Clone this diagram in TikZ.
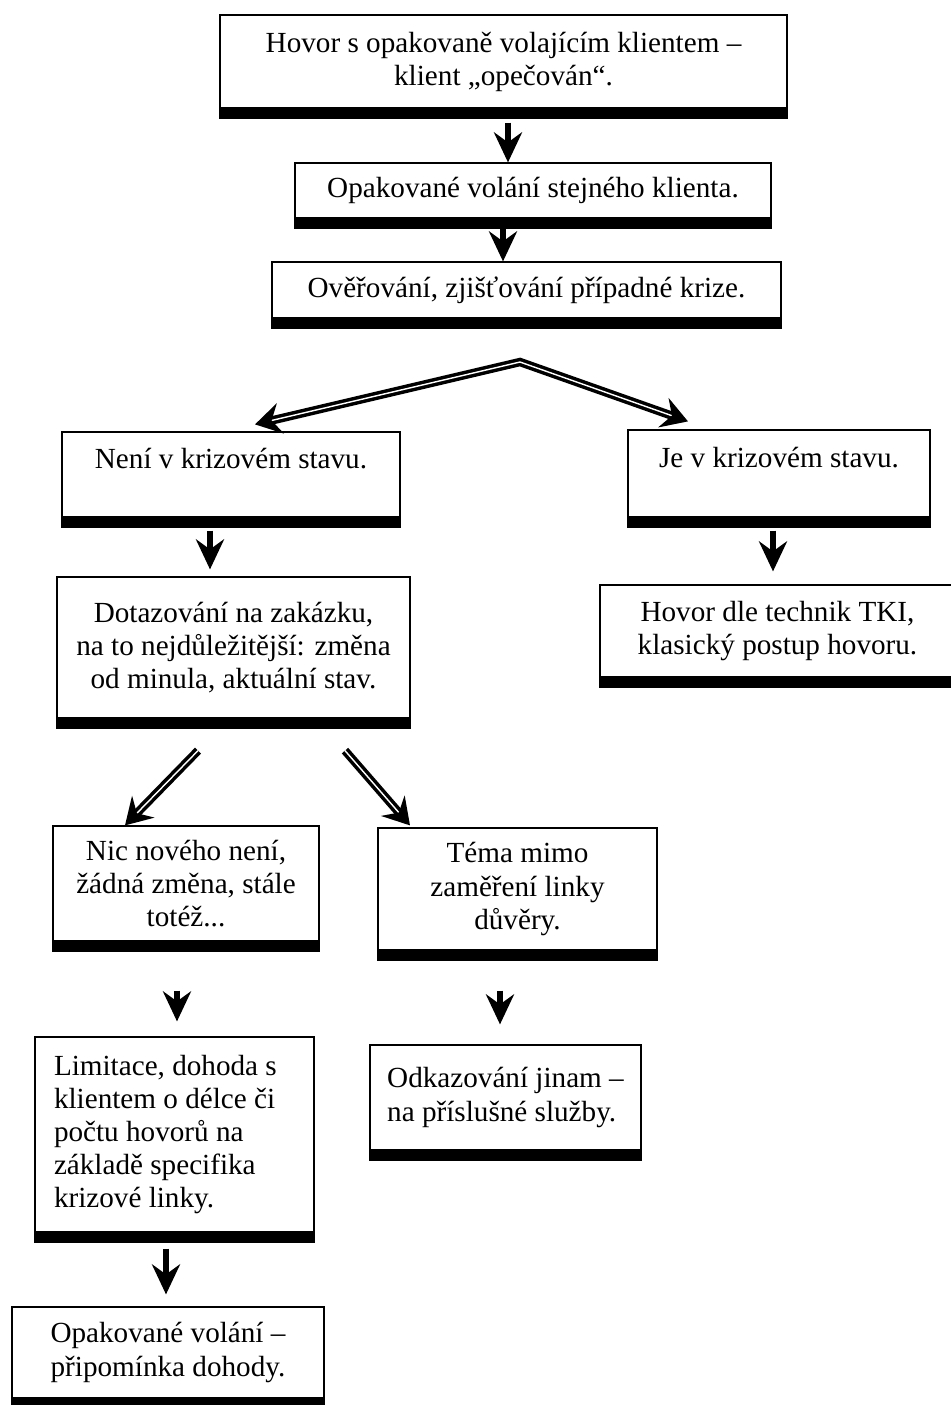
\documentclass[tikz,border=0pt]{standalone}
\usepackage{fontspec}
\setmainfont{Liberation Serif}
\usepackage{tikz}
\usetikzlibrary{arrows.meta,positioning,shadows,calc}

\begin{document}
\begin{tikzpicture}[
 box/.style={draw,line width=.7pt,fill=white,inner sep=0pt,align=center,
 font=\fontsize{16.6}{18.8}\selectfont,
 general shadow={fill=black,draw=black,line width=1.4pt,rounded corners=1pt,shadow yshift=-.2cm}},
 downarr/.style={-{Stealth[length=6mm,width=5.6mm,inset=2mm]},line width=3pt},
 dblarr/.style={>={Stealth[length=5.2mm,width=6.2mm,inset=1.8mm]},->,double,double distance=.8pt,line width=2pt}]
 \useasboundingbox (0,0) rectangle (19.02,-28.1);
 \node[box,minimum width=11.34cm,minimum height=1.86cm] (hovor) at (10.07,-1.23) {Hovor s opakovaně volajícím klientem –\\klient „opečován“.};
 \node[box,minimum width=9.52cm,minimum height=1.1cm] (opak) at (10.66,-3.81) {Opakované volání stejného klienta.};
 \node[box,minimum width=10.18cm,minimum height=1.12cm] (overeni) at (10.53,-5.8) {Ověřování, zjišťování případné krize.};
 \node[box,minimum width=6.76cm,minimum height=1.7cm] (nekriz) at (4.62,-9.49) {Není v krizovém stavu.\\\mbox{}};
 \node[box,minimum width=6.04cm,minimum height=1.74cm] (jekriz) at (15.58,-9.47) {Je v krizovém stavu.\\\mbox{}};
 \node[box,minimum width=7.06cm,minimum height=2.82cm] (dotaz) at (4.67,-12.95) {Dotazování na zakázku,\\na to nejdůležitější: změna\\od minula, aktuální stav.};
 \node[box,minimum width=7.1cm,minimum height=1.84cm] (tki) at (15.55,-12.62) {Hovor dle technik TKI,\\klasický postup hovoru.};
 \node[box,minimum width=5.32cm,minimum height=2.3cm] (nic) at (3.72,-17.67) {Nic nového není,\\žádná změna, stále\\totéž...};
 \node[box,minimum width=5.58cm,minimum height=2.44cm] (tema) at (10.35,-17.78) {Téma mimo\\zaměření linky\\důvěry.};
 \node[box,minimum width=5.58cm,minimum height=3.9cm,text width=4.82cm,align=flush left] (limit) at (3.49,-22.69) {Limitace, dohoda s\\klientem o délce či\\počtu hovorů na\\základě specifika\\krizové linky.};
 \node[box,minimum width=5.42cm,minimum height=2.1cm,align=left] (odkaz) at (10.11,-21.95) {Odkazování jinam –\\na příslušné služby.};
 \node[box,minimum width=6.24cm,minimum height=1.82cm] (pripom) at (3.36,-27.05) {Opakované volání –\\připomínka dohody.};
 \coordinate (split) at (10.4,-7.24);
 \draw[downarr,shorten <=.28cm] ([xshift=.09cm]hovor.south) -- ([xshift=.09cm]hovor.south |- opak.north);
 \draw[downarr,shorten <=.2cm] ([xshift=-.6cm]opak.south) -- ([xshift=-.6cm]opak.south |- overeni.north);
 \draw[dblarr,<->] ($(nekriz.north)+(.48,.14)$) -- (split) -- ($(jekriz.north)+(-1.82,.16)$);
 \draw[downarr,shorten <=.26cm,shorten >=.14cm] ([xshift=-.42cm]nekriz.south) -- ([xshift=-.42cm]nekriz.south |- dotaz.north);
 \draw[downarr,shorten <=.26cm,shorten >=.26cm] ([xshift=-.12cm]jekriz.south) -- ([xshift=-.12cm]jekriz.south |- tki.north);
 \draw[dblarr] ($(dotaz.south)+(-.71,-.64)$) -- ($(nic.north)+(-1.22,0)$);
 \draw[dblarr] ($(dotaz.south)+(2.23,-.64)$) -- ($(tema.north)+(-2.15,.04)$);
 \draw[downarr,shorten <=.98cm,shorten >=.3cm] ([xshift=-.18cm]nic.south) -- ([xshift=-.18cm]nic.south |- limit.north);
 \draw[downarr,shorten <=.8cm,shorten >=.4cm] ([xshift=-.35cm]tema.south) -- ([xshift=-.35cm]tema.south |- odkaz.north);
 \draw[downarr,shorten <=.32cm,shorten >=.24cm] ([xshift=-.17cm]limit.south) -- ([xshift=-.17cm]limit.south |- pripom.north);
\end{tikzpicture}
\end{document}
